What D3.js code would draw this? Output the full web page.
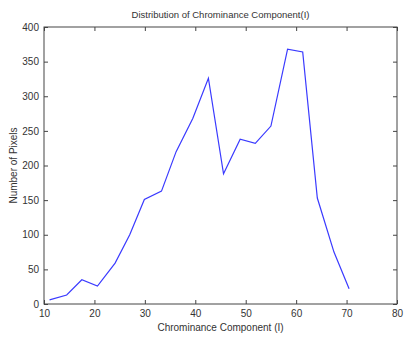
<!DOCTYPE html>
<html>
<head>
<meta charset="utf-8">
<script src="https://cdn.jsdelivr.net/npm/d3@7"></script>
<style>
  body { margin: 0; background: #fff; }
  #graph { width: 405px; height: 338px; }
  text { font-family: "Liberation Sans", Arial, sans-serif; fill: #333; }
</style>
</head>
<body>
<div id="graph"></div>
<script>
// DATA
const chromaValues = [11.1, 14.5, 17.5, 20.6, 24.1, 27, 29.9, 33.3, 36.2, 39.5, 42.6, 45.6, 48.9, 51.9, 55, 58.3, 61.3, 64.2, 67.5, 70.5]
const pixelCounts = [6, 13, 35, 26, 59, 100, 151, 163, 220, 268, 326, 188, 238, 232, 257, 368, 364, 153, 75, 22]
const xTicks = [10, 20, 30, 40, 50, 60, 70, 80]
const yTicks = [0, 50, 100, 150, 200, 250, 300, 350, 400]

const data = chromaValues.map((x, i) => ({ x: x, y: pixelCounts[i] }))

// Set graph dimensions
const width = 405, height = 338
const margin = { top: 27, right: 8, bottom: 34, left: 44 }
const gWidth = width - margin.left - margin.right
const gHeight = height - margin.top - margin.bottom
const axisColour = "#444"

const svg = d3.select('#graph').append("svg").attr("width", width).attr("height", height)
const graph = svg.append('g').attr("transform", `translate(${margin.left}, ${margin.top})`)

const xScale = d3.scaleLinear().domain([10, 80]).range([0, gWidth])
const yScale = d3.scaleLinear().domain([0, 400]).range([gHeight, 0])

// Axes, matlab style: ticks pointing inwards, on all four sides
const styleAxis = g => {
  g.select(".domain").remove()
  g.selectAll("line").attr("stroke", axisColour)
  g.selectAll("text").attr("font-size", 10).style("fill", "#333")
}
graph.append('g').attr("transform", `translate(0, ${gHeight})`)
  .call(d3.axisBottom(xScale).tickValues(xTicks).tickSize(-4).tickPadding(6))
  .call(styleAxis)
graph.append('g')
  .call(d3.axisTop(xScale).tickValues(xTicks).tickSize(-4).tickFormat(""))
  .call(styleAxis)
graph.append('g')
  .call(d3.axisLeft(yScale).tickValues(yTicks).tickSize(-4).tickPadding(5))
  .call(styleAxis)
graph.append('g').attr("transform", `translate(${gWidth}, 0)`)
  .call(d3.axisRight(yScale).tickValues(yTicks).tickSize(-4).tickFormat(""))
  .call(styleAxis)

// box around the plot
graph.append("rect")
  .attr("width", gWidth).attr("height", gHeight)
  .attr("fill", "none").attr("stroke", axisColour).attr("stroke-width", 1)

// the line
const line = d3.line().x(d => xScale(d.x)).y(d => yScale(d.y))
graph.append("path")
  .datum(data)
  .attr("d", line)
  .attr("fill", "none")
  .attr("stroke", "#3a3aff")
  .attr("stroke-width", 1.2)

// Title and labels
svg.append("text")
  .attr("x", margin.left + gWidth / 2).attr("y", 18)
  .attr("text-anchor", "middle").attr("font-size", 9.5)
  .text("Distribution of Chrominance Component(I)")

svg.append("text")
  .attr("x", margin.left + gWidth / 2).attr("y", 331)
  .attr("text-anchor", "middle").attr("font-size", 10)
  .text("Chrominance Component (I)")

svg.append("text")
  .attr("transform", `translate(17, ${margin.top + gHeight / 2}) rotate(-90)`)
  .attr("text-anchor", "middle").attr("font-size", 10)
  .text("Number of Pixels")
</script>
</body>
</html>
